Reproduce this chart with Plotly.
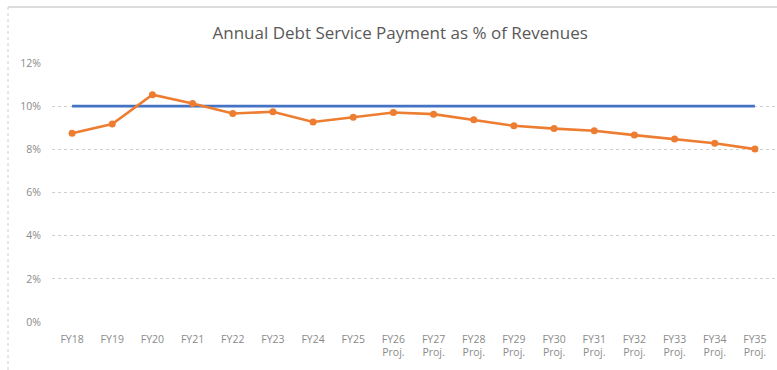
import plotly.graph_objects as go

# Fiscal years (historic and projected)
years = ["FY18", "FY19", "FY20", "FY21", "FY22", "FY23", "FY24", "FY25",
         "FY26", "FY27", "FY28", "FY29", "FY30", "FY31", "FY32", "FY33",
         "FY34", "FY35"]
projected = [False] * 8 + [True] * 10
tick_labels = [y + ("<br>Proj." if p else "") for y, p in zip(years, projected)]

# Debt service as a share of revenues (%)
debt_service_pct = [8.75, 9.17, 10.53, 10.12, 9.66, 9.74, 9.27, 9.49, 9.71,
                    9.63, 9.37, 9.09, 8.96, 8.86, 8.66, 8.48, 8.28, 8.01]
# Policy limit (%)
limit_pct = [10.0] * len(years)

x_idx = list(range(len(years)))
grey_text = "#8a8a8a"

W, H = 777, 370
M_L, M_R, M_T, M_B = 52, 2, 63, 48
plot_w = W - M_L - M_R
plot_h = H - M_T - M_B

fig = go.Figure()
fig.add_trace(go.Scatter(
    x=x_idx, y=[v / 100 for v in limit_pct], mode="lines",
    line=dict(color="#4472C4", width=2.6), name="Limit",
    hoverinfo="skip",
))
fig.add_trace(go.Scatter(
    x=x_idx, y=[v / 100 for v in debt_service_pct], mode="lines+markers",
    line=dict(color="#ED7D31", width=2.6),
    marker=dict(color="#ED7D31", size=7, symbol="circle"),
    name="Debt Service",
))

fig.update_layout(
    width=W, height=H,
    margin=dict(l=M_L, r=M_R, t=M_T, b=M_B),
    paper_bgcolor="white", plot_bgcolor="white",
    showlegend=False,
    font=dict(family="Open Sans, sans-serif", color=grey_text, size=11),
    title=dict(
        text="Annual Debt Service Payment as % of Revenues",
        x=0.515, xanchor="center", y=0.91, yanchor="middle",
        font=dict(family="Open Sans, sans-serif", size=17, color="#595959"),
    ),
    xaxis=dict(
        range=[-0.5, len(years) - 0.5],
        tickmode="array", tickvals=x_idx, ticktext=tick_labels,
        showgrid=False, zeroline=False, showline=False, ticks="",
        tickfont=dict(size=10.5, color=grey_text),
        ticklabelstandoff=9,
    ),
    yaxis=dict(
        range=[0, 0.12],
        tickvals=[0, 0.02, 0.04, 0.06, 0.08, 0.10, 0.12],
        tickformat=".0%",
        showgrid=True, gridcolor="#cfcfcf", griddash="dot", gridwidth=1,
        zeroline=False, showline=False, ticks="",
        tickfont=dict(size=10.5, color=grey_text),
        ticklabelstandoff=10,
    ),
)

# Chart frame: solid top edge and dotted left edge
frame_top = (H - M_B - 7) / plot_h
frame_left = (8 - M_L) / plot_w
fig.add_shape(type="line", xref="paper", yref="paper",
              x0=frame_left, x1=1.01, y0=frame_top, y1=frame_top,
              line=dict(color="#d0d0d0", width=1.5))
fig.add_shape(type="line", xref="paper", yref="paper",
              x0=frame_left, x1=frame_left, y0=-M_B / plot_h, y1=frame_top,
              line=dict(color="#d0d0d0", width=1, dash="dot"))

fig.write_html("out.html")
